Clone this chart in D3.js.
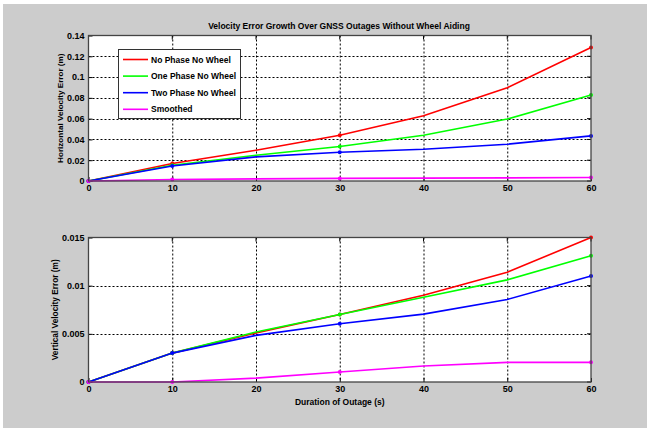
<!DOCTYPE html>
<html><head><meta charset="utf-8">
<script src="https://cdn.jsdelivr.net/npm/d3@7"></script>
<style>body{margin:0;background:#fff}svg{display:block}text{font-family:Arial,"Liberation Sans",sans-serif;font-weight:bold;fill:#000}</style>
</head><body><svg id="c" width="647" height="428"></svg>
<script>
const durations = [0, 10, 20, 30, 40, 50, 60];
const markerDurations = [0, 10, 30, 60];
const seriesNames = ["No Phase No Wheel", "One Phase No Wheel", "Two Phase No Wheel", "Smoothed"];
const seriesColors = ["#ff0000", "#00ff00", "#0000ff", "#ff00ff"];
const horizNoPhase = [0, 0.0168, 0.0296, 0.0441, 0.0628, 0.0898, 0.1284];
const horizOnePhase = [0, 0.0152, 0.0248, 0.0332, 0.0441, 0.0596, 0.0827];
const horizTwoPhase = [0, 0.0145, 0.0232, 0.0277, 0.0306, 0.0354, 0.0434];
const horizSmoothed = [0, 0.0015, 0.0020, 0.0025, 0.0028, 0.0030, 0.0033];
const vertNoPhase = [0, 0.0030, 0.0051, 0.0070, 0.0090, 0.0114, 0.0150];
const vertOnePhase = [0, 0.0030, 0.0052, 0.0070, 0.0088, 0.0106, 0.0131];
const vertTwoPhase = [0, 0.0030, 0.00484, 0.00605, 0.00705, 0.00857, 0.0110];
const vertSmoothed = [0, 0, 0.0004, 0.00104, 0.00166, 0.00204, 0.00204];
const xTicks = [0, 10, 20, 30, 40, 50, 60];
const horizTicks = [0, 0.02, 0.04, 0.06, 0.08, 0.1, 0.12, 0.14];
const vertTicks = [0, 0.005, 0.01, 0.015];

const svg = d3.select("#c");
svg.append("rect").attr("x",3).attr("y",4).attr("width",644).attr("height",424).attr("fill","#cccccc");

svg.append("text").attr("x",339).attr("y",29).attr("text-anchor","middle").attr("font-size",8.5)
  .text("Velocity Error Growth Over GNSS Outages Without Wheel Aiding");

const L = 88.5, R = 591;
const x = d3.scaleLinear().domain([0,60]).range([L,R]);

function panel(top, bottom, yMax, ticks, fmt, data, ylabel, ylabelX, ylabelSize, xlabel) {
  const y = d3.scaleLinear().domain([0,yMax]).range([bottom, top]);
  const g = svg.append("g");
  g.append("rect").attr("x",L).attr("y",top).attr("width",R-L).attr("height",bottom-top).attr("fill","#fff");
  g.selectAll(".gx").data(xTicks.slice(1,-1)).join("line")
    .attr("x1",d=>x(d)+0.5).attr("x2",d=>x(d)+0.5).attr("y1",top).attr("y2",bottom)
    .attr("stroke","#000").attr("stroke-width",1).attr("stroke-dasharray","2,2");
  g.selectAll(".gy").data(ticks.slice(1,-1)).join("line")
    .attr("y1",d=>Math.round(y(d))+0.5).attr("y2",d=>Math.round(y(d))+0.5).attr("x1",L).attr("x2",R)
    .attr("stroke","#000").attr("stroke-width",1).attr("stroke-dasharray","2,2");
  const ax = g.append("g").attr("transform",`translate(0,${bottom})`)
    .call(d3.axisBottom(x).tickValues(xTicks).tickSize(-4).tickPadding(4).tickFormat(d3.format("d")));
  const ay = g.append("g").attr("transform",`translate(${L},0)`)
    .call(d3.axisLeft(y).tickValues(ticks).tickSize(-4).tickPadding(4).tickFormat(fmt));
  [ax, ay].forEach(a => {
    a.select(".domain").remove();
    a.selectAll("line").attr("stroke","#000");
    a.selectAll("text").attr("font-size",9).attr("font-family","Arial, 'Liberation Sans', sans-serif").attr("font-weight","bold").attr("fill","#000");
  });
  g.selectAll(".rt").data(ticks).join("line").attr("x1",R-4).attr("x2",R).attr("y1",d=>y(d)).attr("y2",d=>y(d)).attr("stroke","#000");
  g.selectAll(".tt").data(xTicks).join("line").attr("y1",top).attr("y2",top+4).attr("x1",d=>x(d)).attr("x2",d=>x(d)).attr("stroke","#000");
  const line = d3.line().x((d,i)=>x(durations[i])).y(d=>y(d));
  data.forEach((s,k) => {
    g.append("path").datum(s).attr("d",line).attr("fill","none").attr("stroke",seriesColors[k]).attr("stroke-width",1.6);
    g.selectAll(null).data(markerDurations).join("circle")
      .attr("cx",d=>x(d)).attr("cy",d=>y(s[durations.indexOf(d)])).attr("r",2).attr("fill",seriesColors[k]);
  });
  g.append("rect").attr("x",L).attr("y",top).attr("width",R-L).attr("height",bottom-top)
    .attr("fill","none").attr("stroke","#444").attr("stroke-width",1.3);
  g.append("text").attr("transform",`translate(${ylabelX},${(top+bottom)/2}) rotate(-90)`)
    .attr("text-anchor","middle").attr("font-size",ylabelSize).text(ylabel);
  if (xlabel) g.append("text").attr("x",(L+R)/2).attr("y",bottom+23).attr("text-anchor","middle").attr("font-size",8.5).text(xlabel);
  return y;
}

panel(35.5, 181, 0.14, horizTicks, d => d===0 ? "0" : String(+d.toFixed(2)),
  [horizNoPhase, horizOnePhase, horizTwoPhase, horizSmoothed], "Horizontal Velocity Error (m)", 63, 8.1, null);
panel(237.5, 382, 0.015, vertTicks, d => d===0 ? "0" : String(+d.toFixed(3)),
  [vertNoPhase, vertOnePhase, vertTwoPhase, vertSmoothed], "Vertical Velocity Error (m)", 58, 8.3, "Duration of Outage (s)");

const lg = svg.append("g");
lg.append("rect").attr("x",118.5).attr("y",49.5).attr("width",122).attr("height",69).attr("fill","#fff").attr("stroke","#333").attr("stroke-width",1);
seriesNames.forEach((n,i) => {
  const yy = 59.5 + i*16.6;
  lg.append("line").attr("x1",123).attr("x2",148).attr("y1",yy).attr("y2",yy).attr("stroke",seriesColors[i]).attr("stroke-width",1.6);
  lg.append("text").attr("x",151).attr("y",yy+3).attr("font-size",8.5).text(n);
});
</script></body></html>
